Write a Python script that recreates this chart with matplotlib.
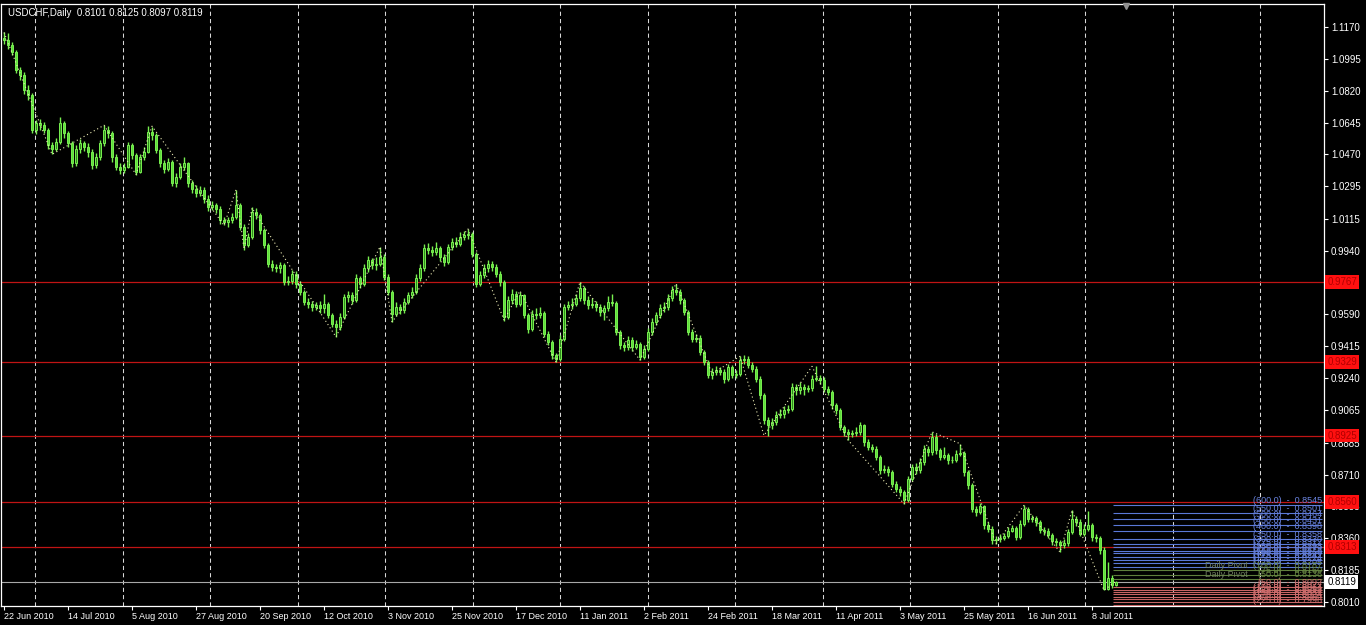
import numpy as np
import pandas as pd
import matplotlib
matplotlib.use("Agg")
import matplotlib.pyplot as plt
import matplotlib.transforms as mtransforms

plt.rcParams['font.family'] = ['Liberation Sans', 'DejaVu Sans']

# USDCHF daily bars, prices in pips (1e-4)
first_open = 11110
closes = [
    11098, 11070, 11034, 10933, 10906, 10823, 10796, 10603, 10640, 10631,
    10603, 10521, 10502, 10539, 10640, 10585, 10530, 10420, 10502, 10530,
    10512, 10484, 10411, 10457, 10530, 10603, 10585, 10457, 10402, 10383,
    10402, 10521, 10466, 10374, 10457, 10484, 10594, 10576, 10493, 10420,
    10392, 10429, 10310, 10347, 10402, 10420, 10310, 10282, 10255, 10273,
    10227, 10181, 10191, 10172, 10108, 10099, 10108, 10127, 10191, 10072,
    9971, 10017, 10154, 10136, 10053, 9971, 9870, 9852, 9843, 9861,
    9769, 9775, 9815, 9760, 9714, 9659, 9650, 9632, 9641, 9628,
    9645, 9586, 9540, 9522, 9577, 9687, 9696, 9669, 9788, 9760,
    9843, 9889, 9861, 9870, 9907, 9797, 9714, 9595, 9632, 9614,
    9659, 9696, 9714, 9788, 9843, 9953, 9944, 9934, 9953, 9907,
    9879, 9962, 9989, 9980, 10017, 10026, 10035, 9925, 9760, 9806,
    9843, 9870, 9852, 9815, 9769, 9577, 9668, 9705, 9650, 9696,
    9586, 9513, 9595, 9586, 9598, 9485, 9439, 9366, 9348, 9458,
    9632, 9641, 9650, 9678, 9733, 9668, 9641, 9650, 9632, 9605,
    9623, 9659, 9654, 9494, 9421, 9412, 9449, 9412, 9430, 9357,
    9403, 9494, 9549, 9586, 9623, 9632, 9678, 9723, 9714, 9668,
    9604, 9494, 9458, 9462, 9384, 9329, 9256, 9274, 9283, 9274,
    9238, 9302, 9256, 9262, 9338, 9348, 9311, 9293, 9238, 9146,
    9009, 8981, 8999, 9036, 9045, 9063, 9073, 9192, 9174, 9192,
    9183, 9188, 9238, 9243, 9232, 9183, 9164, 9091, 9063, 8972,
    8944, 8935, 8939, 8944, 8981, 8889, 8862, 8853, 8807, 8734,
    8743, 8724, 8660, 8633, 8614, 8568, 8688, 8752, 8734, 8779,
    8853, 8834, 8917, 8843, 8807, 8816, 8788, 8792, 8825, 8830,
    8724, 8651, 8523, 8504, 8536, 8431, 8413, 8349, 8358, 8363,
    8371, 8400, 8418, 8367, 8440, 8523, 8468, 8473, 8450, 8407,
    8398, 8380, 8345, 8338, 8321, 8334, 8394, 8468, 8450, 8385,
    8413, 8431, 8367, 8363, 8294, 8083, 8140, 8101, 8119,
]
highs = [
    11140, 11135, 11085, 11045, 10950, 10920, 10850, 10810, 10660, 10665,
    10650, 10615, 10540, 10560, 10675, 10655, 10600, 10545, 10520, 10555,
    10545, 10530, 10500, 10475, 10550, 10630, 10625, 10600, 10470, 10420,
    10425, 10540, 10535, 10480, 10470, 10510, 10625, 10620, 10590, 10505,
    10440, 10450, 10440, 10365, 10420, 10455, 10430, 10330, 10300, 10295,
    10290, 10245, 10215, 10205, 10185, 10125, 10125, 10150, 10275, 10205,
    10085, 10040, 10180, 10175, 10150, 10065, 9985, 9890, 9870, 9880,
    9875, 9800, 9835, 9830, 9775, 9725, 9680, 9665, 9660, 9665,
    9700, 9660, 9600, 9560, 9600, 9705, 9720, 9715, 9810, 9800,
    9865, 9910, 9900, 9905, 9962, 9920, 9810, 9725, 9660, 9650,
    9680, 9715, 9740, 9810, 9865, 9975, 9985, 9965, 9990, 9965,
    9925, 9980, 10010, 10015, 10045, 10050, 10060, 10045, 9935, 9830,
    9865, 9890, 9885, 9865, 9830, 9780, 9690, 9730, 9720, 9715,
    9705, 9600, 9615, 9625, 9630, 9610, 9500, 9450, 9380, 9480,
    9650, 9665, 9680, 9700, 9769, 9745, 9690, 9680, 9665, 9650,
    9640, 9690, 9700, 9665, 9505, 9440, 9470, 9465, 9450, 9440,
    9420, 9515, 9570, 9605, 9645, 9660, 9700, 9745, 9760, 9730,
    9680, 9615, 9510, 9485, 9475, 9395, 9340, 9295, 9305, 9300,
    9290, 9320, 9315, 9285, 9360, 9365, 9360, 9330, 9305, 9250,
    9160, 9025, 9020, 9060, 9070, 9085, 9095, 9215, 9210, 9220,
    9210, 9205, 9260, 9305, 9260, 9245, 9195, 9175, 9105, 9075,
    8985, 8960, 8955, 8970, 9000, 8990, 8905, 8880, 8865, 8820,
    8765, 8755, 8735, 8675, 8645, 8625, 8705, 8770, 8775, 8800,
    8875, 8870, 8945, 8935, 8855, 8860, 8830, 8815, 8845, 8880,
    8840, 8735, 8665, 8540, 8555, 8545, 8450, 8425, 8375, 8385,
    8390, 8420, 8435, 8430, 8460, 8541, 8530, 8490, 8485, 8460,
    8420, 8415, 8390, 8360, 8350, 8355, 8410, 8514, 8485, 8465,
    8440, 8510, 8445, 8385, 8375, 8310, 8230, 8160, 8125,
]
lows = [
    11075, 11050, 11015, 10915, 10880, 10800, 10770, 10585, 10580, 10605,
    10585, 10500, 10470, 10490, 10525, 10560, 10510, 10400, 10405, 10480,
    10490, 10455, 10390, 10395, 10440, 10515, 10560, 10430, 10385, 10360,
    10370, 10395, 10445, 10355, 10365, 10440, 10475, 10550, 10475, 10400,
    10370, 10380, 10295, 10290, 10335, 10385, 10290, 10260, 10235, 10240,
    10205, 10160, 10165, 10150, 10090, 10080, 10070, 10095, 10115, 10055,
    9945, 9960, 10005, 10115, 10035, 9955, 9850, 9830, 9825, 9820,
    9750, 9750, 9760, 9735, 9695, 9640, 9625, 9610, 9615, 9600,
    9600, 9570, 9520, 9467, 9505, 9565, 9660, 9650, 9660, 9735,
    9745, 9825, 9840, 9835, 9855, 9780, 9695, 9550, 9580, 9590,
    9600, 9645, 9680, 9700, 9775, 9830, 9920, 9910, 9915, 9885,
    9855, 9865, 9945, 9960, 9965, 10000, 10005, 9905, 9740, 9745,
    9790, 9825, 9830, 9795, 9745, 9555, 9565, 9650, 9630, 9635,
    9570, 9490, 9500, 9565, 9570, 9465, 9420, 9345, 9329, 9335,
    9445, 9615, 9620, 9635, 9665, 9645, 9620, 9625, 9610, 9580,
    9560, 9610, 9635, 9475, 9400, 9390, 9395, 9390, 9400, 9340,
    9345, 9390, 9480, 9535, 9570, 9605, 9615, 9665, 9695, 9650,
    9585, 9475, 9440, 9440, 9365, 9310, 9240, 9235, 9260, 9255,
    9215, 9225, 9240, 9240, 9250, 9320, 9295, 9275, 9220, 9125,
    8990, 8925, 8960, 8985, 9020, 9020, 9050, 9060, 9150, 9155,
    9150, 9165, 9170, 9225, 9210, 9165, 9145, 9070, 9045, 8955,
    8925, 8900, 8915, 8920, 8930, 8870, 8845, 8835, 8790, 8715,
    8720, 8700, 8640, 8615, 8590, 8550, 8560, 8675, 8715, 8720,
    8765, 8815, 8820, 8825, 8790, 8795, 8770, 8775, 8780, 8810,
    8705, 8630, 8505, 8485, 8495, 8410, 8395, 8330, 8330, 8340,
    8350, 8360, 8395, 8350, 8355, 8430, 8450, 8450, 8430, 8390,
    8380, 8360, 8325, 8315, 8284, 8305, 8320, 8385, 8425, 8370,
    8375, 8400, 8345, 8340, 8275, 8074, 8075, 8085, 8097,
]

# zigzag swing points (bar index, price in pips)
zz_bars = [0, 12, 25, 33, 37, 55, 58, 60, 62, 83, 94, 97, 116, 125, 129, 138,
           144, 159, 168, 177, 184, 190, 202, 211, 225, 232, 239, 248, 255,
           264, 267, 275, 278]
zz_prices = [11140, 10470, 10630, 10360, 10625, 10080, 10275, 9950, 10175,
             9467, 9962, 9550, 10060, 9560, 9720, 9329, 9769, 9340, 9760,
             9265, 9360, 8925, 9305, 8900, 8550, 8945, 8880, 8330, 8541,
             8284, 8514, 8074, 8125]

# horizontal levels
red_levels = [0.9767, 0.9329, 0.8925, 0.8560, 0.8313]
bid = 0.8119
ytick_vals = [1.1170, 1.0995, 1.0820, 1.0645, 1.0470, 1.0295, 1.0115, 0.9940,
              0.9765, 0.9590, 0.9415, 0.9240, 0.9065, 0.8885, 0.8710, 0.8535,
              0.8360, 0.8185, 0.8010]
hidden_ticks = [0.9765]   # fully covered by the 0.9767 label

# level grid at the right end (pips) and their counts
blue_levels = [8545, 8501, 8464, 8431, 8398, 8358, 8330, 8312, 8293, 8279,
               8260, 8242, 8224, 8205]
blue_counts = [600, 550, 500, 450, 400, 350, 300, 275, 250, 225, 200, 175, 150, 125]
green_levels = [8187, 8160, 8136]
green_counts = [100, 75, 50]
pink_levels = [8092, 8077, 8064, 8052, 8037, 8024, 8009, 7996]
pink_counts = [50, 75, 100, 125, 150, 175, 200, 225]

c = np.array(closes) / 1e4
h = np.array(highs) / 1e4
l = np.array(lows) / 1e4
o = np.concatenate([[first_open / 1e4], c[:-1]])
n = len(c)
x = np.arange(n)

dates = pd.bdate_range("2010-06-22", "2011-07-18")
dates = dates[dates != pd.Timestamp("2010-12-24")][:n]

fig = plt.figure(figsize=(13.66, 6.25), dpi=100, facecolor="black")
ax = fig.add_axes([1 / 1366, 1 - 606 / 625, 1323 / 1366, 602 / 625])
ax.set_facecolor("black")

top_y, bot_y = 1.12964, 0.79880
ax.set_xlim(-0.75, 330)
ax.set_ylim(bot_y, top_y)

# vertical dashed grid
for k in range(15):
    ax.axvline(7.75 + k * 21.875, color="#d8d8d8", lw=0.75,
               linestyle=(0, (4, 3)), zorder=1)

# levels
for lv in red_levels:
    ax.axhline(lv, color="#c01414", lw=0.9, zorder=1.5)
ax.axhline(bid, color="#a8a8a8", lw=0.8, zorder=1.5)

# candles
green_edge = "#78f050"
ax.vlines(x, l, h, color=green_edge, lw=1.0, zorder=2)
up = c >= o
body_lo = np.minimum(o, c)
body_h = np.maximum(np.abs(c - o), 0.00008)
ax.bar(x[up], body_h[up], bottom=body_lo[up], width=0.72, color="#2f8a1c",
       edgecolor=green_edge, linewidth=0.7, zorder=3)
ax.bar(x[~up], body_h[~up], bottom=body_lo[~up], width=0.72, color="#5edc3c",
       edgecolor=green_edge, linewidth=0.7, zorder=3)

# zigzag
ax.plot(zz_bars, np.array(zz_prices) / 1e4, color="#eaeab4", lw=0.8,
        linestyle=(0, (1, 2.5)), zorder=4)

# level grid on the right
x0, x1 = 277.3, 329.5
for lv, cnt in zip(blue_levels, blue_counts):
    ax.hlines(lv / 1e4, x0, x1, color="#5a78d8", lw=0.8, zorder=4)
    ax.text(x1, lv / 1e4, f"({cnt:.1f})  -  {lv / 1e4:.4f}", color="#6a84e0",
            fontsize=6.5, ha="right", va="bottom", zorder=5)
for lv, cnt in zip(green_levels, green_counts):
    ax.hlines(lv / 1e4, x0, x1, color="#5e7e3c", lw=0.8, zorder=4)
    ax.text(x1, lv / 1e4, f"({cnt:.1f})  -  {lv / 1e4:.4f}", color="#6a8a44",
            fontsize=6.5, ha="right", va="bottom", zorder=5)
for lv, cnt in zip(pink_levels, pink_counts):
    ax.hlines(lv / 1e4, x0, x1, color="#c86464", lw=0.8, zorder=4)
    ax.text(x1, lv / 1e4, f"({cnt:.1f})  -  {lv / 1e4:.4f}", color="#d07070",
            fontsize=6.5, ha="right", va="bottom", zorder=5)
ax.text(311, green_levels[0] / 1e4, "Daily Pivot", color="#708060",
        fontsize=6.5, ha="right", va="bottom", zorder=5)
ax.text(311, green_levels[2] / 1e4, "Daily Pivot", color="#708060",
        fontsize=6.5, ha="right", va="bottom", zorder=5)

# shift marker
ax.plot(280.5, top_y - 0.0012, marker="v", color="#909090", ms=5,
        clip_on=False, zorder=6)

# axes styling
for sp in ax.spines.values():
    sp.set_color("white")
    sp.set_linewidth(0.9)

ax.yaxis.tick_right()
ax.set_yticks(ytick_vals)
ax.set_yticklabels(["" if v in hidden_ticks else f"{v:.4f}" for v in ytick_vals])
ax.tick_params(axis="y", colors="white", labelsize=7, length=3, width=0.8, pad=2)

xt = list(range(0, n, 16))
ax.set_xticks(xt)
ax.set_xticklabels([f"{dates[i].day} {dates[i].strftime('%b %Y')}" for i in xt])
ax.tick_params(axis="x", colors="white", labelsize=6.5, length=3, width=0.8, pad=1)
for lab in ax.get_xticklabels():
    lab.set_ha("left")

# price labels on the right axis
trans = mtransforms.blended_transform_factory(ax.transAxes, ax.transData)
for lv in red_levels:
    ax.text(1.0025, lv, f"{lv:.4f}", transform=trans, color="#b00000",
            fontsize=7, va="center", ha="left", clip_on=False, zorder=10,
            bbox=dict(boxstyle="square,pad=0.2", fc="#ff1010", ec="none"))
ax.text(1.0025, bid, f"{bid:.4f}", transform=trans, color="black",
        fontsize=7, va="center", ha="left", clip_on=False, zorder=10,
        bbox=dict(boxstyle="square,pad=0.2", fc="white", ec="none"))

fig.text(8 / 1366, 1 - 13 / 625, "USDCHF,Daily  0.8101 0.8125 0.8097 0.8119",
         color="white", fontsize=7, va="center", ha="left")

fig.savefig("out.png", dpi=100, facecolor="black")
